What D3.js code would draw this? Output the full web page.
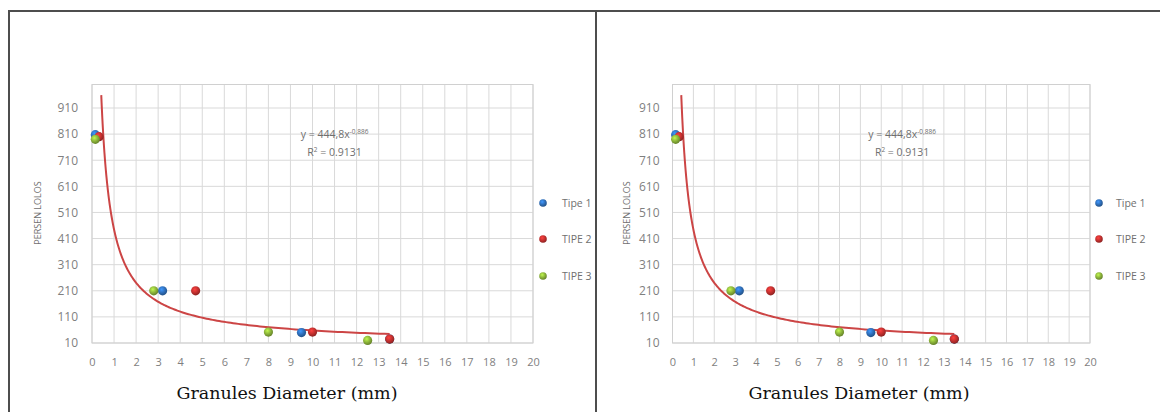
<!DOCTYPE html>
<html>
<head>
<meta charset="utf-8">
<script src="https://cdn.jsdelivr.net/npm/d3@7"></script>
<style>
  html, body { margin: 0; padding: 0; background: #ffffff; }
  svg { display: block; }
</style>
</head>
<body>
<svg id="chart" width="1160" height="412"></svg>
<script>
// Sieve test results: granule diameter (mm) vs. persen lolos
const tipe1X = [0.15, 3.2, 9.5, 13.5];
const tipe1Y = [808, 210, 50, 25];
const tipe2X = [0.32, 4.7, 10.0, 13.5];
const tipe2Y = [800, 210, 52, 25];
const tipe3X = [0.15, 2.8, 8.0, 12.5];
const tipe3Y = [790, 210, 52, 20];

const seriesNames = ["Tipe 1", "TIPE 2", "TIPE 3"];
const seriesColors = ["#2f6fba", "#c3302f", "#8cb43a"];

// Power trendline y = a * x^b
const trendA = 444.8;
const trendB = -0.886;
const trendXRange = [0.42, 13.5];
const equationText = "y = 444,8x";
const equationExp = "-0,886";
const r2Text = "= 0.9131";

const xTicks = d3.range(0, 21, 1);
const yTicks = d3.range(10, 1000, 100);
const xDomain = [0, 20];
const yDomain = [10, 1000];

const xTitle = "Granules Diameter (mm)";
const yTitle = "PERSEN LOLOS";

const svg = d3.select("#chart");
const defs = svg.append("defs");

// sphere-like marker fills
seriesColors.forEach((c, i) => {
  const g = defs.append("radialGradient")
    .attr("id", "mk" + i).attr("cx", "40%").attr("cy", "35%").attr("r", "65%");
  g.append("stop").attr("offset", "0%").attr("stop-color", d3.color(c).brighter(0.9));
  g.append("stop").attr("offset", "55%").attr("stop-color", c);
  g.append("stop").attr("offset", "100%").attr("stop-color", d3.color(c).darker(0.9));
});

const series = [
  tipe1X.map((x, i) => ({ x, y: tipe1Y[i] })),
  tipe2X.map((x, i) => ({ x, y: tipe2Y[i] })),
  tipe3X.map((x, i) => ({ x, y: tipe3Y[i] }))
];

function drawPanel(id, L) {
  defs.append("clipPath").attr("id", "clip" + id)
    .append("rect").attr("x", L.clip[0]).attr("y", 0)
    .attr("width", L.clip[1] - L.clip[0]).attr("height", 412);

  const g = svg.append("g").attr("clip-path", `url(#clip${id})`);

  const x = d3.scaleLinear().domain(xDomain).range([L.left, L.right]);
  const y = d3.scaleLinear().domain(yDomain).range([L.bottom, L.top]);

  // gridlines
  g.append("g").selectAll("line").data(xTicks).join("line")
    .attr("x1", d => x(d)).attr("x2", d => x(d))
    .attr("y1", y(yDomain[0])).attr("y2", y(yDomain[1]))
    .attr("stroke", "#d9d9d9").attr("stroke-width", 1);
  g.append("g").selectAll("line").data(yTicks).join("line")
    .attr("x1", x(0)).attr("x2", x(20))
    .attr("y1", d => y(d)).attr("y2", d => y(d))
    .attr("stroke", "#d9d9d9").attr("stroke-width", 1);
  g.append("rect")
    .attr("x", x(0)).attr("y", y(yDomain[1]))
    .attr("width", x(20) - x(0)).attr("height", y(yDomain[0]) - y(yDomain[1]))
    .attr("fill", "none").attr("stroke", "#d0d0d0").attr("stroke-width", 1);

  // axes (labels only)
  const xa = g.append("g").attr("transform", `translate(0,${y(yDomain[0])})`)
    .call(d3.axisBottom(x).tickValues(xTicks).tickSize(0).tickPadding(15).tickFormat(d3.format("d")));
  const ya = g.append("g").attr("transform", `translate(${x(0)},0)`)
    .call(d3.axisLeft(y).tickValues(yTicks).tickSize(0).tickPadding(L.yPad).tickFormat(d3.format("d")));
  xa.select(".domain").remove();
  ya.select(".domain").remove();
  xa.selectAll("text").attr("fill", "#7f7f7f")
    .style("font-family", "'Open Sans', sans-serif").style("font-size", "11px");
  ya.selectAll("text").attr("fill", "#7f7f7f")
    .style("font-family", "'Open Sans', sans-serif").style("font-size", "12px");

  // trendline
  const trendPts = d3.range(0, 201).map(i => {
    const t = trendXRange[0] * Math.pow(trendXRange[1] / trendXRange[0], i / 200);
    return { x: t, y: trendA * Math.pow(t, trendB) };
  });
  g.append("path").datum(trendPts)
    .attr("fill", "none").attr("stroke", "#cc4545").attr("stroke-width", 2)
    .attr("d", d3.line().x(d => x(d.x)).y(d => y(d.y)));

  // points
  series.forEach((s, i) => {
    g.append("g").selectAll("circle").data(s).join("circle")
      .attr("cx", d => x(d.x)).attr("cy", d => y(d.y)).attr("r", 4.6)
      .attr("fill", `url(#mk${i})`);
  });

  // equation and R²
  const eqX = x(11.0);
  const eq = g.append("text").attr("x", eqX).attr("y", 138)
    .attr("text-anchor", "middle").attr("fill", "#6f6f6f")
    .style("font-family", "'Open Sans', sans-serif").style("font-size", "10.5px");
  eq.append("tspan").text(equationText);
  eq.append("tspan").attr("dy", -4).style("font-size", "6.5px").text(equationExp);
  const r2 = g.append("text").attr("x", eqX).attr("y", 156)
    .attr("text-anchor", "middle").attr("fill", "#6f6f6f")
    .style("font-family", "'Open Sans', sans-serif").style("font-size", "10.5px");
  r2.append("tspan").text("R");
  r2.append("tspan").attr("dy", -4).style("font-size", "6.5px").text("2");
  r2.append("tspan").attr("dy", 4).text(" " + r2Text);

  // legend
  const legY = [203, 239, 276];
  seriesNames.forEach((n, i) => {
    g.append("circle").attr("cx", L.legX).attr("cy", legY[i]).attr("r", 3.8)
      .attr("fill", `url(#mk${i})`);
    g.append("text").attr("x", L.legX + L.legGap).attr("y", legY[i]).attr("dy", "0.35em")
      .attr("fill", "#6f6f6f")
      .style("font-family", "'Open Sans', sans-serif").style("font-size", "10.5px")
      .text(n);
  });

  // axis titles
  g.append("text")
    .attr("transform", `translate(${L.yTitleX},213) rotate(-90)`)
    .attr("text-anchor", "middle").attr("dy", "0.35em").attr("fill", "#6f6f6f")
    .style("font-family", "'Open Sans', sans-serif").style("font-size", "9px")
    .text(yTitle);
  g.append("text")
    .attr("x", L.xTitleX).attr("y", 399)
    .attr("text-anchor", "middle").attr("fill", "#111111")
    .style("font-family", "'DejaVu Serif', serif").style("font-size", "17.5px")
    .text(xTitle);
}

drawPanel("A", { left: 92, right: 533, top: 84.5, bottom: 343, yPad: 14,
  legX: 543, legGap: 19, yTitleX: 38, xTitleX: 287, clip: [10, 595] });
drawPanel("B", { left: 672.5, right: 1090, top: 84.5, bottom: 343, yPad: 13,
  legX: 1099, legGap: 17, yTitleX: 627, xTitleX: 859, clip: [597, 1160] });

// table frame around the two panels
const frame = svg.append("g").attr("stroke", "#4d4d4d").attr("stroke-width", 2).attr("fill", "none");
frame.append("line").attr("x1", 8).attr("x2", 1160).attr("y1", 11).attr("y2", 11);
frame.append("line").attr("x1", 9).attr("x2", 9).attr("y1", 10).attr("y2", 412);
frame.append("line").attr("x1", 596).attr("x2", 596).attr("y1", 10).attr("y2", 412);
</script>
</body>
</html>
